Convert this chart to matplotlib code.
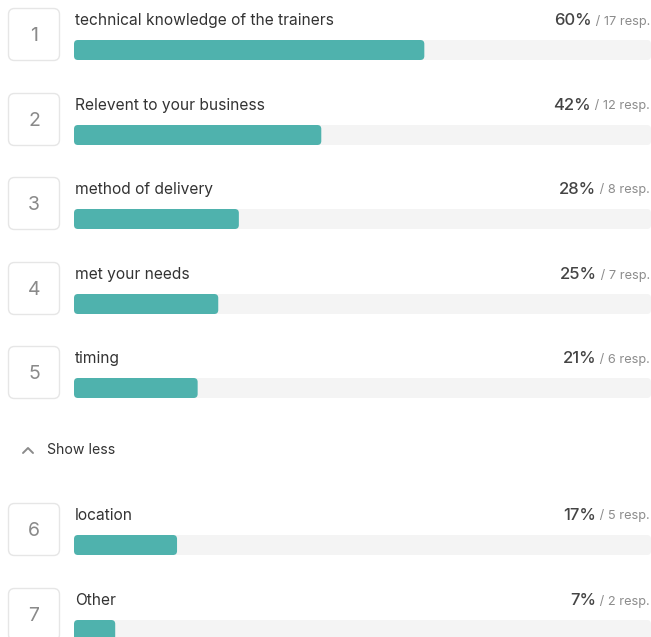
import matplotlib.pyplot as plt
from matplotlib.patches import FancyBboxPatch

labels = ["technical knowledge of the trainers", "Relevent to your business",
          "method of delivery", "met your needs", "timing", "location", "Other"]
responses = [17, 12, 8, 7, 6, 5, 2]
percents = [60, 42, 28, 25, 21, 17, 7]
total = 28

W, H = 651, 637
plt.rcParams["font.family"] = ["Inter", "DejaVu Sans"]
fig = plt.figure(figsize=(W / 100, H / 100), dpi=100)
ax = fig.add_axes([0, 0, 1, 1])
ax.set_xlim(0, W)
ax.set_ylim(H, 0)
ax.axis("off")

teal = "#4fb2ad"
track = "#f4f4f4"
x0, x1 = 74, 651
row_tops = [8, 93, 177, 262, 346, 503, 588]

fig.canvas.draw()
renderer = fig.canvas.get_renderer()

for i, (lab, n, pct, top) in enumerate(zip(labels, responses, percents, row_tops)):
    # rank box
    ax.add_patch(FancyBboxPatch((8.5, top + 0.5), 51, 52,
                                boxstyle="round,pad=0,rounding_size=6",
                                fc="white", ec="#e6e6e6", lw=1))
    ax.text(34, top + 28, str(i + 1), ha="center", va="center",
            fontsize=14, color="#8a8a8a")
    # label
    ax.text(75, top + 12.5, lab, ha="left", va="center", fontsize=11.2, color="#333333")
    # track and bar
    ax.add_patch(FancyBboxPatch((x0, top + 32), x1 - x0, 20,
                                boxstyle="round,pad=0,rounding_size=4",
                                fc=track, ec="none"))
    ax.add_patch(FancyBboxPatch((x0, top + 32), (x1 - x0) * n / total, 20,
                                boxstyle="round,pad=0,rounding_size=4",
                                fc=teal, ec="none"))
    # percentage and response count
    t = ax.text(650, top + 13, f" / {n} resp.", ha="right", va="center",
                fontsize=9.2, color="#8c8c8c")
    bb = t.get_window_extent(renderer)
    px = ax.transData.inverted().transform((bb.x0, 0))[0]
    ax.text(px, top + 12.5, f"{pct}%", ha="right", va="center",
            fontsize=12, color="#444444", fontweight="medium")

# show less toggle
ax.plot([23, 28, 33], [453, 448, 453], color="#8a8a8a", lw=1.4,
        solid_capstyle="round", solid_joinstyle="round")
ax.text(47, 450, "Show less", ha="left", va="center", fontsize=10.2, color="#333333")

fig.savefig("out.png", dpi=100)
